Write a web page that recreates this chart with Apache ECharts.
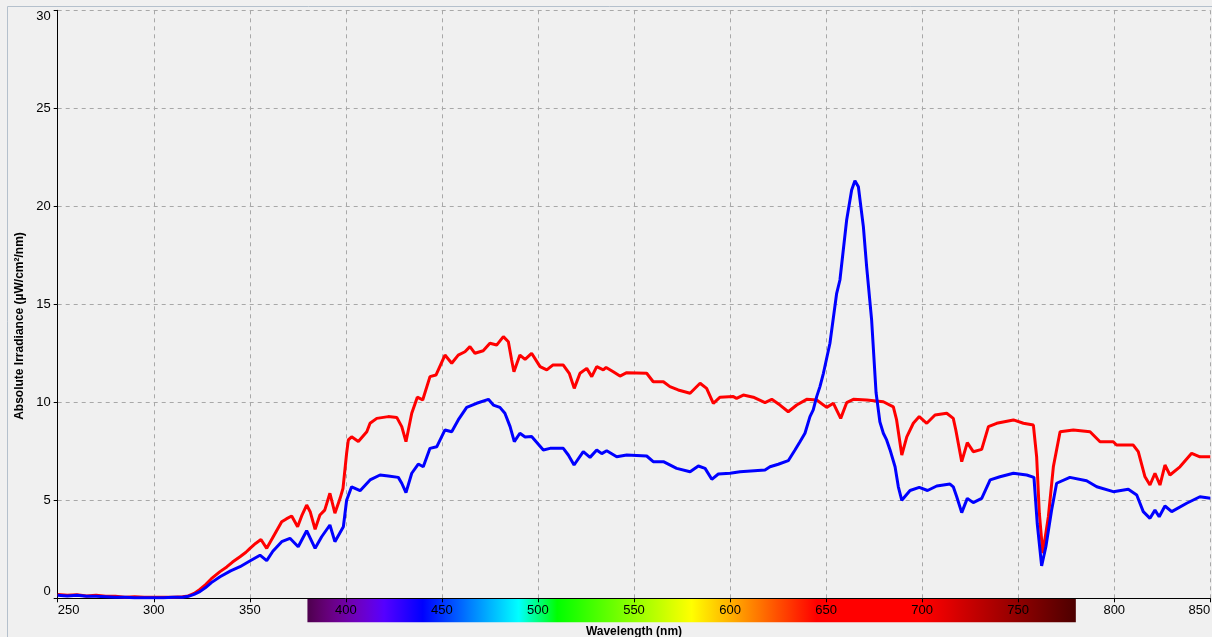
<!DOCTYPE html>
<html>
<head>
<meta charset="utf-8">
<script src="https://cdn.jsdelivr.net/npm/echarts@6/dist/echarts.min.js"></script>
<style>
html,body{margin:0;padding:0;background:#f0f0f0;}
#chart{width:1212px;height:637px;}
</style>
</head>
<body>
<div id="chart"></div>
<script>
// ---- data ----
const redWavelength = [250,255,260,265,270,275,280,285,290,295,300,305,310,315,318,321,324,327,330,334.5,338,341,344.9,348,350.1,353,355.8,358.8,362.2,366.6,369,371.8,374.9,377,379.6,381.5,384,386.5,389,391.7,394.3,397,398.5,400.4,401.3,403,406.5,410.9,412.6,416.1,422.1,426.5,429.1,431.3,434.3,437.2,440,443.8,446.9,451.6,455.1,458.5,462,464.6,467.2,471.5,475,478.5,482,484.6,486.3,487.5,490.6,493.3,496.7,501.1,504.6,507.7,513.2,516.3,518.9,521.9,525.4,528,530.6,534,535.5,539.2,542.7,546.2,556.6,560,565.3,568.7,573,579.2,584.4,587.8,591.3,594.8,601.7,603.4,606.9,612.1,618.2,621.7,626,630.3,634.7,639.9,645.1,650.3,653.8,657.6,660.7,664.2,671.1,679.8,685,686.7,689.4,692,695.4,698.5,702.4,706.7,712.8,716.2,717.5,720.6,723.5,726.6,731,734.5,738.8,747.5,752.7,757.9,759.6,761,762.8,765.7,768.3,771.8,778.7,787.4,792.6,799.5,801.2,809.9,812.5,816,818.6,821.2,823.8,826.4,829,834.2,840.3,844.6,850];
const redIrradiance = [0.2,0.15,0.18,0.12,0.15,0.1,0.1,0.05,0.08,0.05,0.05,0.05,0.05,0.08,0.12,0.25,0.45,0.7,1.0,1.36,1.6,1.85,2.12,2.35,2.55,2.8,3.0,2.55,3.14,3.9,4.05,4.2,3.65,4.2,4.76,4.4,3.52,4.25,4.5,5.36,4.34,5.1,5.6,7.4,8.08,8.24,8.0,8.5,8.93,9.18,9.27,9.23,8.76,7.99,9.44,10.26,10.12,11.31,11.39,12.41,11.99,12.41,12.58,12.84,12.5,12.63,13.01,12.92,13.35,13.09,12.16,11.56,12.41,12.19,12.5,11.82,11.65,11.9,11.9,11.48,10.71,11.48,11.73,11.31,11.82,11.65,11.78,11.56,11.34,11.51,11.48,11.05,11.05,10.8,10.63,10.46,10.97,10.71,9.95,10.26,10.29,10.2,10.37,10.26,9.98,10.15,9.86,9.52,9.86,10.15,10.12,9.74,9.95,9.18,9.98,10.15,10.12,10.03,9.77,9.1,7.31,8.24,8.93,9.27,8.93,9.35,9.44,9.18,8.6,6.97,7.94,7.48,7.6,8.76,8.93,9.1,8.93,8.84,7.22,4.34,2.3,4.16,6.71,8.5,8.59,8.5,7.99,7.99,7.82,7.82,7.48,6.2,5.78,6.38,5.78,6.8,6.29,6.71,7.4,7.22,7.22];

const blueWavelength = [250,255,260,265,270,275,280,285,290,295,300,305,310,315,318,321,324,327,330,334.5,340,344.9,350,355.3,358.8,362,366.6,370.9,375.2,379.6,384,387.4,391.7,394.3,398.7,400.4,403,407.4,412.6,417.8,422.1,427.3,429.1,431.3,434.3,437.7,440.3,443.8,447.3,451.6,455.1,458.5,462.9,468.1,474.2,476.8,480.2,482.8,485.5,487.7,490.6,493.3,496.7,502.8,506.3,513.2,515.8,518.8,523.6,527.1,530.6,533.2,535.8,541,546.2,556.6,560,565.3,572.2,579.2,583.5,587,590.5,593.9,600,605.2,618.2,620.8,625.1,630.3,633.8,636.4,639,641.6,643.3,645.1,646.8,648.6,652,655.5,657.2,660.7,663.3,665,666.8,669.4,671.1,673.7,676,678,679.8,681.5,683.3,685.9,687.6,689.4,693.7,698.5,702.8,707.6,714.5,716.2,718,720.6,723.5,726.6,731,735.4,740.5,747.5,754.4,758.2,759.9,762.2,764.4,767.4,770,776.9,785.6,790.9,799.5,807.3,811.7,815.1,818.6,821.2,823.4,826.4,829.9,837.7,844.6,850];
const blueIrradiance = [0.15,0.12,0.15,0.1,0.1,0.08,0.05,0.05,0.03,0.03,0.03,0.03,0.05,0.05,0.1,0.2,0.34,0.55,0.8,1.1,1.4,1.61,1.9,2.2,1.92,2.4,2.89,3.06,2.63,3.45,2.55,3.14,3.74,2.89,3.65,5.0,5.69,5.49,6.04,6.29,6.24,6.17,5.87,5.39,6.38,6.85,6.71,7.65,7.73,8.59,8.5,9.1,9.74,9.95,10.15,9.86,9.74,9.44,8.76,7.99,8.42,8.23,8.25,7.57,7.65,7.65,7.31,6.8,7.48,7.19,7.57,7.38,7.53,7.22,7.31,7.26,6.97,6.97,6.63,6.46,6.75,6.63,6.07,6.34,6.38,6.46,6.55,6.71,6.84,7.02,7.57,7.99,8.42,9.27,9.61,10.29,10.8,11.48,13.01,15.56,16.24,19.3,20.83,21.3,21.0,18.96,16.92,14.2,10.5,9.0,8.42,8.08,7.57,6.71,5.69,5.0,5.5,5.66,5.5,5.73,5.83,5.69,5.18,4.37,5.1,4.88,5.1,6.04,6.2,6.38,6.29,6.17,3.83,1.65,2.63,4.5,5.87,6.17,6.0,5.69,5.44,5.56,5.27,4.42,4.08,4.5,4.16,4.71,4.42,4.85,5.18,5.1];

const xMin = 250, xMax = 850, xStep = 50;
const yMin = 0, yMax = 30, yStep = 5;
const spectrumStart = 380, spectrumEnd = 780;

function zip(a, b) { return a.map((v, i) => [v, b[i]]); }

// wavelength -> visible colour (Bruton approximation)
function wlColor(w) {
  let r = 0, g = 0, b = 0;
  if (w < 440) { r = -(w - 440) / 60; b = 1; }
  else if (w < 490) { g = (w - 440) / 50; b = 1; }
  else if (w < 510) { g = 1; b = -(w - 510) / 20; }
  else if (w < 580) { r = (w - 510) / 70; g = 1; }
  else if (w < 645) { r = 1; g = -(w - 645) / 65; }
  else { r = 1; }
  let f = 1;
  if (w < 420) f = 0.3 + 0.7 * (w - 380) / 40;
  else if (w > 700) f = 0.3 + 0.7 * (780 - w) / 80;
  const c = v => Math.round(255 * v * f);
  return 'rgb(' + c(r) + ',' + c(g) + ',' + c(b) + ')';
}

const chart = echarts.init(document.getElementById('chart'), null, { renderer: 'canvas' });
const font = '"Liberation Sans", Arial, sans-serif';

chart.setOption({
  backgroundColor: '#f0f0f0',
  animation: false,
  grid: { left: 57.7, right: 1.7, top: 10.3, bottom: 38.7, containLabel: false, outerBoundsMode: 'none' },
  xAxis: {
    type: 'value', min: xMin, max: xMax, interval: xStep,
    name: 'Wavelength (nm)', nameLocation: 'middle', nameGap: 27,
    nameTextStyle: { color: '#000', fontFamily: font, fontSize: 12, fontWeight: 'bold' },
    axisLine: { show: true, onZero: false, lineStyle: { color: '#000', width: 1 } },
    axisTick: { show: true, length: 4, lineStyle: { color: '#000' } },
    axisLabel: { color: '#000', fontFamily: font, fontSize: 13, margin: 6, alignMinLabel: 'left', alignMaxLabel: 'right' },
    splitLine: { show: true, lineStyle: { color: '#a8a8a8', type: [4, 4], width: 1 } }
  },
  yAxis: {
    type: 'value', min: yMin, max: yMax, interval: yStep,
    axisLine: { show: true, lineStyle: { color: '#000', width: 1 } },
    axisTick: { show: true, length: 4, lineStyle: { color: '#000' } },
    axisLabel: { color: '#000', fontFamily: font, fontSize: 13, margin: 7, verticalAlignMinLabel: 'bottom', verticalAlignMaxLabel: 'top' },
    splitLine: { show: true, lineStyle: { color: '#a8a8a8', type: [4, 4], width: 1 } }
  },
  series: [
    { type: 'line', data: zip(redWavelength, redIrradiance), showSymbol: false, symbol: 'none',
      lineStyle: { color: '#ff0000', width: 3 }, z: 3 },
    { type: 'line', data: zip(blueWavelength, blueIrradiance), showSymbol: false, symbol: 'none',
      lineStyle: { color: '#0000ff', width: 3 }, z: 4 }
  ]
});

// colour bar and frame, placed through the axis scales
const x0 = chart.convertToPixel({ xAxisIndex: 0 }, spectrumStart);
const x1 = chart.convertToPixel({ xAxisIndex: 0 }, spectrumEnd);
const yBase = chart.convertToPixel({ yAxisIndex: 0 }, yMin);
const stops = [];
for (let w = spectrumStart; w <= spectrumEnd; w += 5) {
  stops.push({ offset: (w - spectrumStart) / (spectrumEnd - spectrumStart), color: wlColor(w) });
}
chart.setOption({
  graphic: [
    { type: 'rect', z: -10, silent: true,
      shape: { x: x0, y: yBase, width: x1 - x0, height: 24 },
      style: { fill: new echarts.graphic.LinearGradient(0, 0, 1, 0, stops) } },
    { type: 'line', z: -10, silent: true, shape: { x1: 7.5, y1: 6.5, x2: 7.5, y2: 637 },
      style: { stroke: '#b4c0cc', lineWidth: 1 } },
    { type: 'line', z: -10, silent: true, shape: { x1: 7.5, y1: 6.5, x2: 1212, y2: 6.5 },
      style: { stroke: '#b4c0cc', lineWidth: 1 } },
    { type: 'text', silent: true, x: 19.5, y: 326, rotation: Math.PI / 2,
      style: { text: 'Absolute Irradiance (µW/cm²/nm)', fill: '#000', font: 'bold 12px "Liberation Sans", Arial, sans-serif',
        textAlign: 'center', textVerticalAlign: 'middle' } }
  ]
});
</script>
</body>
</html>
